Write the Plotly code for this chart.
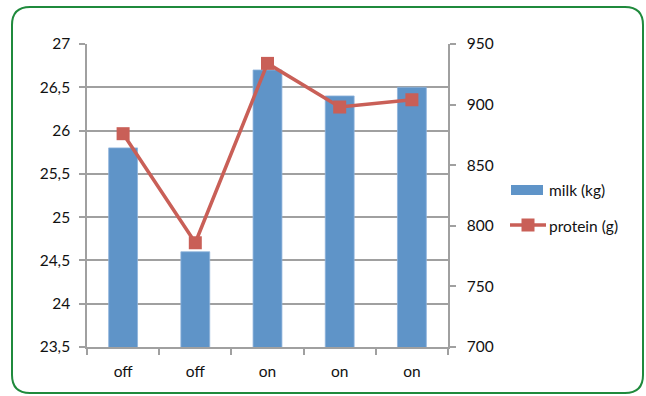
import plotly.graph_objects as go

# Data
categories = ["off", "off", "on", "on", "on"]
milk_kg = [25.8, 24.6, 26.7, 26.4, 26.5]
protein_g = [876, 786, 934, 898, 904]

left_ticks = [23.5, 24, 24.5, 25, 25.5, 26, 26.5, 27]
left_ticktext = ["23,5", "24", "24,5", "25", "25,5", "26", "26,5", "27"]
right_ticks = [700, 750, 800, 850, 900, 950]

W, H = 646, 396
ML, MR, MT, MB = 87, 198, 44, 49
PW, PH = W - ML - MR, H - MT - MB

BLUE = "#5f94c8"
RED = "#c95f57"
GRID = "#a0a0a0"
TEXT = "#111111"
FONT = "Lato, 'Open Sans', sans-serif"
FS = 15.5


def px(x):
    return (x - ML) / PW


def py(y):
    return (H - MB - y) / PH


x_idx = list(range(len(categories)))

fig = go.Figure()
fig.add_trace(go.Bar(
    x=x_idx, y=milk_kg, name="milk (kg)", marker_color=BLUE,
    marker_line=dict(color="#8fb4dc", width=0.8), yaxis="y", showlegend=False,
))
fig.add_trace(go.Scatter(
    x=x_idx, y=protein_g, name="protein (g)", mode="lines+markers",
    line=dict(color=RED, width=3.5), marker=dict(symbol="square", size=13, color=RED),
    yaxis="y2", showlegend=False,
))

# Rounded green frame around the whole chart
x0, x1, y0, y1, r = 12, 643, 7, 393, 18
X = lambda v: px(v)
Y = lambda v: py(v)
path = (
    f"M {X(x0 + r)},{Y(y0)} L {X(x1 - r)},{Y(y0)} "
    f"Q {X(x1)},{Y(y0)} {X(x1)},{Y(y0 + r)} "
    f"L {X(x1)},{Y(y1 - r)} Q {X(x1)},{Y(y1)} {X(x1 - r)},{Y(y1)} "
    f"L {X(x0 + r)},{Y(y1)} Q {X(x0)},{Y(y1)} {X(x0)},{Y(y1 - r)} "
    f"L {X(x0)},{Y(y0 + r)} Q {X(x0)},{Y(y0)} {X(x0 + r)},{Y(y0)} Z"
)
shapes = [dict(type="path", path=path, xref="paper", yref="paper",
               line=dict(color="#1f8a3c", width=2), layer="below")]

# Legend built from shapes and text
shapes.append(dict(type="rect", xref="paper", yref="paper",
                   x0=px(511), x1=px(543), y0=py(195), y1=py(185),
                   fillcolor=BLUE, line=dict(width=0)))
shapes.append(dict(type="line", xref="paper", yref="paper",
                   x0=px(510), x1=px(546), y0=py(225), y1=py(225),
                   line=dict(color=RED, width=3.5)))
shapes.append(dict(type="rect", xref="paper", yref="paper",
                   x0=px(521.5), x1=px(534.5), y0=py(231.5), y1=py(218.5),
                   fillcolor=RED, line=dict(width=0)))
annotations = [
    dict(text="milk (kg)", x=px(547), y=py(190), xref="paper", yref="paper",
         xanchor="left", yanchor="middle", showarrow=False,
         font=dict(family=FONT, size=FS, color=TEXT)),
    dict(text="protein (g)", x=px(547), y=py(226), xref="paper", yref="paper",
         xanchor="left", yanchor="middle", showarrow=False,
         font=dict(family=FONT, size=FS, color=TEXT)),
]

fig.update_layout(
    width=W, height=H,
    margin=dict(l=ML, r=MR, t=MT, b=MB, pad=0),
    paper_bgcolor="white", plot_bgcolor="white",
    bargap=0.6,
    showlegend=False,
    font=dict(family=FONT, size=FS, color=TEXT),
    xaxis=dict(
        range=[-0.5, 4.5], tickvals=x_idx, ticktext=categories,
        ticks="", showgrid=False, zeroline=False,
        showline=True, linecolor=GRID, linewidth=1.5,
        ticklabelstandoff=10,
        minor=dict(tickvals=[-0.5, 0.5, 1.5, 2.5, 3.5, 4.5], ticks="outside",
                   ticklen=6, tickcolor=GRID, tickwidth=1.5, showgrid=False),
        tickfont=dict(size=FS, color=TEXT),
    ),
    yaxis=dict(
        range=[23.5, 27], tickvals=left_ticks, ticktext=left_ticktext,
        ticks="outside", ticklen=6, tickcolor=GRID, tickwidth=1.5,
        showgrid=True, gridcolor=GRID, gridwidth=1.5, zeroline=False,
        showline=True, linecolor=GRID, linewidth=1.5,
        ticklabelstandoff=6, tickfont=dict(size=FS, color=TEXT),
    ),
    yaxis2=dict(
        range=[700, 950], tickvals=right_ticks, overlaying="y", side="right",
        ticks="outside", ticklen=6, tickcolor=GRID, tickwidth=1.5,
        showgrid=False, zeroline=False,
        showline=True, linecolor=GRID, linewidth=1.5,
        ticklabelstandoff=8, tickfont=dict(size=FS, color=TEXT),
    ),
    shapes=shapes,
    annotations=annotations,
)

fig.write_html("out.html")
